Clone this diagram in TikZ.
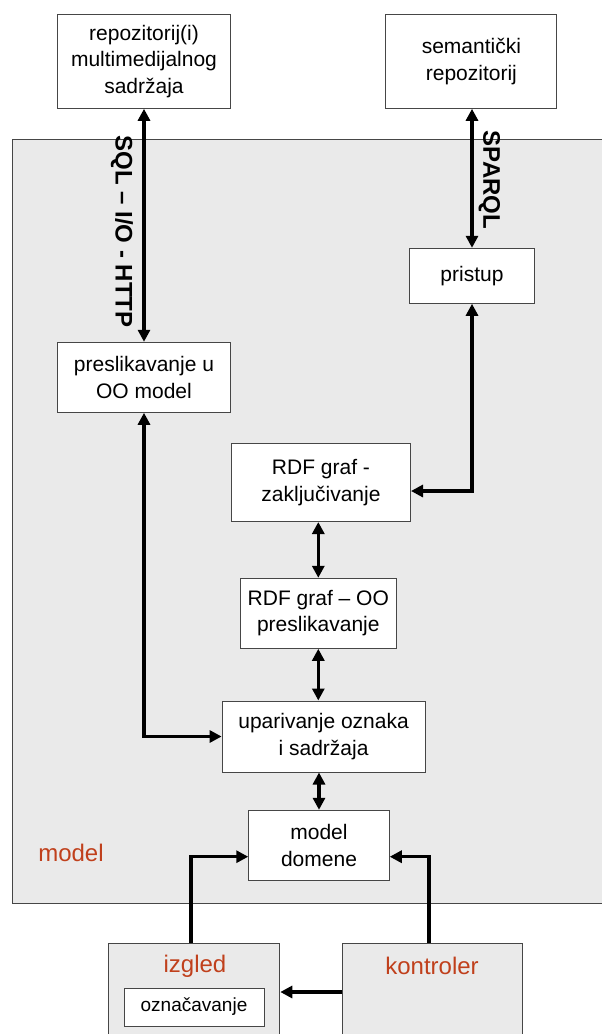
\documentclass[tikz,border=0pt]{standalone}
\usepackage{fontspec}
\setmainfont{Liberation Sans}
\usetikzlibrary{arrows.meta}
\definecolor{labred}{RGB}{192,64,28}
\definecolor{panel}{RGB}{234,234,234}
\definecolor{edge}{RGB}{70,70,70}
\begin{document}
\begin{tikzpicture}[x=1pt,y=-1pt,
  box/.style={draw=edge,line width=1pt,fill=white,inner sep=0pt,align=center,
    font=\fontsize{21}{26.5}\selectfont},
  panelbox/.style={draw=edge,line width=1pt,fill=panel,inner sep=0pt},
  conn/.style={line width=3.5pt,draw=black},
  >={Triangle[length=12pt,width=12pt]},
  biglabel/.style={font=\bfseries\fontsize{24}{28}\selectfont,rotate=-90,inner sep=0pt},
  redlabel/.style={text=labred,font=\fontsize{24}{28}\selectfont,inner sep=0pt}
]
\useasboundingbox (0,0) rectangle (602,1034);
% model panel
\node[panelbox,minimum width=600pt,minimum height=764pt,anchor=north west] (modelpanel) at (11.5,139) {};
\node[redlabel] (modellab) at (71,853) {model};
% boxes
\node[box,minimum width=173pt,minimum height=94pt] (repo) at (144,61.3) {repozitorij(i)\\multimedijalnog\\sadržaja};
\node[box,minimum width=171pt,minimum height=94pt] (sem) at (471.4,61.3) {semantički\\repozitorij};
\node[box,minimum width=125pt,minimum height=55pt] (pristup) at (472,275.8) {pristup};
\node[box,minimum width=173pt,minimum height=70pt] (presl) at (144,377.3) {preslikavanje u\\OO model};
\node[box,minimum width=179pt,minimum height=78pt] (zaklj) at (321,482.5) {RDF graf -\\zaključivanje};
\node[box,minimum width=156pt,minimum height=70pt] (rdfoo) at (318.3,613.3) {RDF graf – OO\\preslikavanje};
\node[box,minimum width=203pt,minimum height=71pt] (upar) at (323.6,736.5) {uparivanje oznaka\\i sadržaja};
\node[box,minimum width=140.5pt,minimum height=70pt] (domene) at (319,845.3) {model\\domene};
% bottom panels
\node[panelbox,minimum width=171.2pt,minimum height=96pt,anchor=north] (izg) at (194.2,942.5) {};
\node[panelbox,minimum width=180pt,minimum height=96pt,anchor=north] (kon) at (432.5,942.5) {};
\node[redlabel] (izglab) at (195,966) {izgled};
\node[redlabel] (konlab) at (432,966) {kontroler};
\node[box,minimum width=140pt,minimum height=38pt,font=\fontsize{19}{22}\selectfont] (ozn) at (194,1007) {označavanje};
% labels
\node[biglabel] (sqllab) at (122,231.5) {SQL – I/O - HTTP};
\node[biglabel] (sparqllab) at (489.5,180) {SPARQL};
% connectors
\draw[conn,<->] (repo.south) -- (presl.north);
\draw[conn,<->] (sem.south -| pristup.north) -- (pristup.north);
\draw[conn,<->] (pristup.south) |- ([yshift=-8.5pt]zaklj.east);
\draw[conn,<->] (zaklj.south -| rdfoo.north) -- (rdfoo.north);
\draw[conn,<->] (rdfoo.south) -- (rdfoo.south |- upar.north);
\draw[conn,<->] (upar.south -| domene.north) -- (domene.north);
\draw[conn,<->] (presl.south) |- (upar.west);
\draw[conn,->] ([xshift=-3.4pt]izg.north) |- ([yshift=-11.4pt]domene.west);
\draw[conn,->] ([xshift=-3.7pt]kon.north) |- ([yshift=-11.4pt]domene.east);
\draw[conn,->] ([yshift=-1pt]kon.west) -- ([yshift=-1pt]izg.east);
\end{tikzpicture}
\end{document}
